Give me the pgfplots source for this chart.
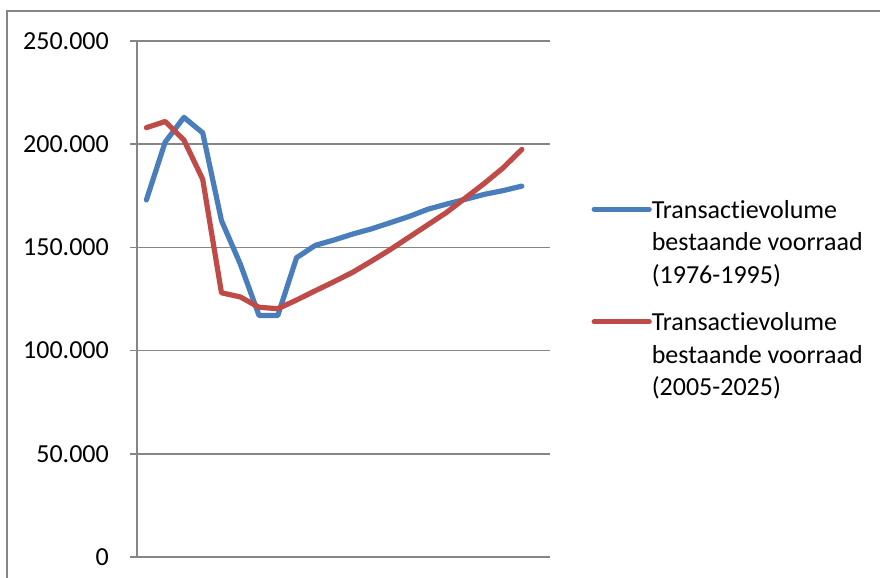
\documentclass[border=0pt]{standalone}
\usepackage{pgfplots}
\pgfplotsset{compat=1.18}
\usepackage{fontspec}
\setmainfont[Ligatures=NoCommon]{Carlito}
\definecolor{xblue}{HTML}{4A7EBB}
\definecolor{xred}{HTML}{BE4B48}
\definecolor{xgray}{HTML}{868686}
\begin{document}
\begin{tikzpicture}
\path[use as bounding box] (0,0) rectangle (880bp,578bp);
\draw[xgray, line width=1.5bp] (7bp,-20bp) -- (7bp,567bp) -- (900bp,567bp);
\begin{axis}[
  at={(137bp,21bp)}, anchor=south west,
  scale only axis, width=413bp, height=516bp,
  xmin=0.5, xmax=22.5, ymin=0, ymax=250000,
  xtick=\empty,
  ytick={0,50000,100000,150000,200000,250000},
  scaled y ticks=false,
  /pgf/number format/fixed,
  /pgf/number format/1000 sep={.},
  /pgf/number format/assume math mode=true,
  axis lines=left,
  axis line style={-, xgray, line width=1.5bp},
  ymajorgrids, grid style={xgray, line width=1.5bp},
  tick align=outside, major tick length=7bp,
  ytick style={xgray, line width=1.5bp},
  tick label style={font=\fontsize{26bp}{31bp}\selectfont, black},
  yticklabel style={anchor=east, inner sep=0pt, xshift=-21bp},
  legend style={at={(1.093,0.70)}, anchor=north west, draw=none, fill=none,
     font=\fontsize{26bp}{32.5bp}\selectfont, row sep=24bp,
     nodes={align=left, inner xsep=0pt, inner ysep=2bp}, column sep=0pt},
  legend cell align=left,
  legend image code/.code={\draw[#1] (0bp,33bp) -- (55bp,33bp);},
  every axis plot/.append style={line width=5.2bp, line join=round, line cap=round},
]
\addplot[xblue] coordinates {
(1,173000)(2,201000)(3,213000)(4,205500)(5,163000)(6,142000)(7,117000)(8,117000)
(9,145000)(10,151000)(11,153600)(12,156500)(13,159000)(14,162000)(15,165000)
(16,168500)(17,171000)(18,173300)(19,175700)(20,177500)(21,179700)};
\addlegendentry{Transactievolume\\bestaande voorraad\\(1976-1995)}
\addplot[xred] coordinates {
(1,208000)(2,211000)(3,202000)(4,183000)(5,128000)(6,126000)(7,121000)(8,120300)
(9,124500)(10,129000)(11,133400)(12,138000)(13,143400)(14,149000)(15,155000)
(16,161000)(17,167000)(18,174000)(19,181000)(20,188500)(21,197500)};
\addlegendentry{Transactievolume\\bestaande voorraad\\(2005-2025)}
\end{axis}
\end{tikzpicture}
\end{document}
